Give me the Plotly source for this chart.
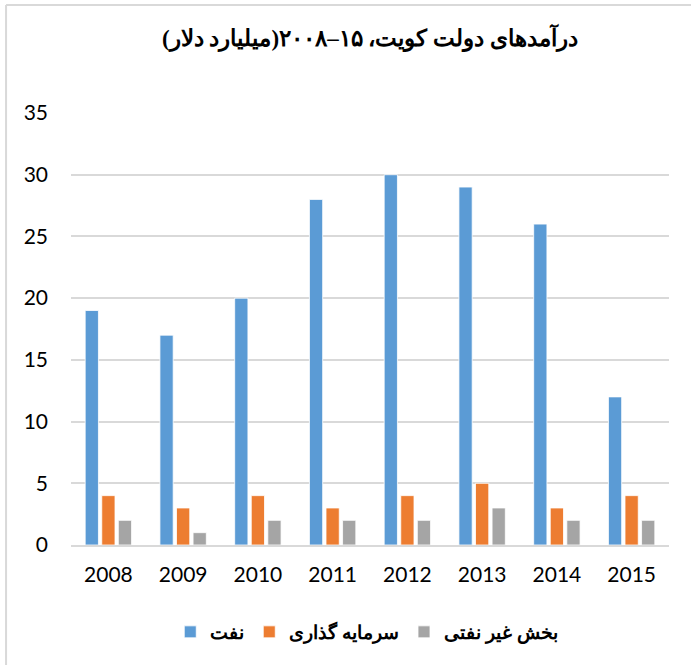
import plotly.graph_objects as go

years = ["2008", "2009", "2010", "2011", "2012", "2013", "2014", "2015"]
oil = [19, 17, 20, 28, 30, 29, 26, 12]
investment = [4, 3, 4, 3, 4, 5, 3, 4]
non_oil = [2, 1, 2, 2, 2, 3, 2, 2]

names = ["نفت", "سرمایه گذاری", "بخش غیر نفتی"]
title_text = "درآمدهای دولت کویت، ۱۵–۲۰۰۸(میلیارد دلار)"

RLM = "\u200f"
def rtl(s):
    return RLM + s + RLM

W, H = 691, 665
L, R, T, B = 71, 21.5, 113, 120
pw, ph = W - L - R, H - T - B

colors = ["#5B9BD5", "#ED7D31", "#A5A5A5"]
fig = go.Figure()
for name, vals, c in zip(names, [oil, investment, non_oil], colors):
    fig.add_trace(go.Bar(x=years, y=vals, name="<b>" + rtl(name) + "</b>",
                         marker=dict(color=c, line=dict(color="white", width=0.8))))

def px(x):
    return (x - L) / pw
def py(y):
    return 1 - (y - T) / ph

fig.update_layout(
    width=W, height=H,
    margin=dict(l=L, r=R, t=T, b=B, autoexpand=False),
    paper_bgcolor="white", plot_bgcolor="white",
    barmode="group", bargap=0.335, bargroupgap=0.2,
    title=dict(text="<b>" + rtl(title_text) + "</b>", xref="container", yref="container",
               x=370 / W, xanchor="center", y=1 - 38 / H, yanchor="middle",
               font=dict(family="Times New Roman, Liberation Serif, DejaVu Serif, serif", size=23, color="#000")),
    showlegend=True,
    legend=dict(orientation="h", x=px(367), xanchor="center", y=py(632), yanchor="middle",
                font=dict(family="Times New Roman, Liberation Serif, DejaVu Serif, serif", size=19, color="#000"),
                itemwidth=30, traceorder="normal"),
    xaxis=dict(showgrid=False, showline=True, linecolor="#d9d9d9", linewidth=1.5, ticks="",
               automargin=False, ticklabelstandoff=10,
               tickfont=dict(family="Lato, Open Sans, sans-serif", size=21, color="#000")),
    yaxis=dict(range=[0, 35], dtick=5, showgrid=True, gridcolor="#d9d9d9", gridwidth=1.5,
               zeroline=False, showline=False, ticks="", ticklabelstandoff=22, automargin=False,
               tickfont=dict(family="Lato, Open Sans, sans-serif", size=21, color="#000")),
    shapes=[
        dict(type="line", xref="paper", yref="paper", x0=px(6), x1=px(W + 5), y0=py(5), y1=py(5), line=dict(color="#d9d9d9", width=2)),
        dict(type="line", xref="paper", yref="paper", x0=px(6), x1=px(6), y0=py(5), y1=py(H + 5), line=dict(color="#d9d9d9", width=2)),
    ],
)
fig.write_html("out.html", config={"displayModeBar": False},
               post_script="document.body.style.margin='0';")
